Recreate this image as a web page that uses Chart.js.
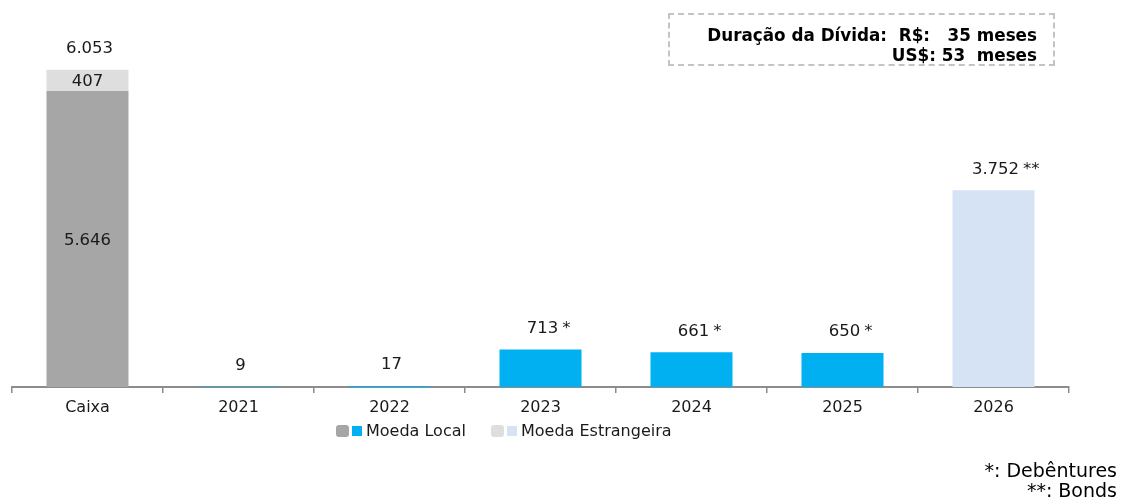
<!DOCTYPE html>
<html>
<head>
<meta charset="utf-8">
<script src="https://cdn.jsdelivr.net/npm/chart.js@4.4.0/dist/chart.umd.min.js"></script>
<style>
  html, body { margin: 0; padding: 0; background: #fff; }
  #wrap { position: relative; width: 1122px; height: 499px; font-family: "DejaVu Sans", Verdana, sans-serif; overflow: hidden; }
  canvas { position: absolute; left: 0; top: 0; }
  #box { position: absolute; left: 668px; top: 13px; width: 383px; height: 49px; border: 2px dashed #c4c4c4;
         font-weight: bold; font-size: 16.8px; line-height: 20px; text-align: right; color: #000;
         box-sizing: content-box; }
  #box div { padding-right: 16px; white-space: pre; }
  #notes { position: absolute; right: 5px; top: 460px; font-size: 19px; line-height: 20px; text-align: right; color: #000; white-space: pre; }
</style>
</head>
<body>
<div id="wrap">
  <canvas id="c" width="1122" height="499"></canvas>
  <div id="box"><div style="margin-top:10px">Duração da Dívida:  R$:   35 meses</div><div>US$: 53  meses</div></div>
  <div id="notes"><div>*: Debêntures</div><div>**: Bonds</div></div>
</div>
<script>
const categories = ['Caixa', '2021', '2022', '2023', '2024', '2025', '2026'];
const moedaLocal = [5646, 9, 17, 713, 661, 650, 0];
const moedaEstrangeira = [407, 0, 0, 0, 0, 0, 3752];
const labelSuffix = ['', '', '', '*', '*', '*', '**'];
const legendNames = ['Moeda Local', 'Moeda Estrangeira'];

const cGray = '#a6a6a6', cLightGray = '#dedede', cBlue = '#00b0f0', cLightBlue = '#d6e3f4';
const FONT = '"DejaVu Sans", Verdana, sans-serif';

function fmt(v) { return String(v).replace(/\B(?=(\d{3})+(?!\d))/g, '.'); }

const labelPlugin = {
  id: 'labels',
  afterDatasetsDraw(chart) {
    const ctx = chart.ctx;
    const m0 = chart.getDatasetMeta(0), m1 = chart.getDatasetMeta(1);
    ctx.save();
    ctx.font = '16.5px ' + FONT;
    ctx.fillStyle = '#1a1a1a';
    ctx.textBaseline = 'middle';
    categories.forEach((c, i) => {
      const total = moedaLocal[i] + moedaEstrangeira[i];
      const b0 = m0.data[i], b1 = m1.data[i];
      const topY = Math.min(b0.y, b1.y);
      const x = b0.x + 2;
      ctx.textAlign = 'center';
      ctx.fillText(fmt(total), x, topY - 21);
      if (labelSuffix[i]) {
        const w = ctx.measureText(fmt(total)).width;
        ctx.textAlign = 'left';
        ctx.fillText(labelSuffix[i], x + w / 2 + 4, topY - 21);
      }
      if (moedaLocal[i] > 0 && moedaEstrangeira[i] > 0) {
        ctx.textAlign = 'center';
        ctx.fillText(fmt(moedaLocal[i]), b0.x, (b0.y + b0.base) / 2 + 2);
        ctx.fillText(fmt(moedaEstrangeira[i]), b1.x, (b1.y + b1.base) / 2 + 1);
      }
    });
    ctx.font = '16px ' + FONT;
    const ly = 431;
    function sq(x, w, h, col, r) {
      ctx.fillStyle = col;
      ctx.beginPath();
      if (ctx.roundRect) ctx.roundRect(x, ly - h / 2, w, h, r); else ctx.rect(x, ly - h / 2, w, h);
      ctx.fill();
    }
    sq(336, 13, 12, cGray, 3);
    sq(352, 10, 10, cBlue, 0);
    sq(491, 13, 12, cLightGray, 3);
    sq(507, 10, 10, cLightBlue, 0);
    ctx.fillStyle = '#1a1a1a';
    ctx.textAlign = 'left';
    ctx.fillText(legendNames[0], 366, ly + 1);
    ctx.fillText(legendNames[1], 521, ly + 1);
    ctx.restore();
  }
};

new Chart(document.getElementById('c'), {
  type: 'bar',
  data: {
    labels: categories,
    datasets: [
      { label: legendNames[0], data: moedaLocal,
        backgroundColor: categories.map((c, i) => i === 0 ? cGray : cBlue) },
      { label: legendNames[1], data: moedaEstrangeira,
        backgroundColor: categories.map((c, i) => i === 0 ? cLightGray : cLightBlue) }
    ]
  },
  options: {
    responsive: false,
    animation: false,
    devicePixelRatio: 1,
    layout: { padding: { left: 12, right: 53, top: 20, bottom: 0 } },
    datasets: { bar: { categoryPercentage: 1, barPercentage: 0.543 } },
    plugins: { legend: { display: false }, tooltip: { enabled: false } },
    scales: {
      x: {
        stacked: true,
        grid: { display: true, drawOnChartArea: false, drawTicks: true, tickLength: 6, color: '#8c8c8c', offset: true, lineWidth: 1.5 },
        border: { display: true, color: '#8c8c8c', width: 2 },
        ticks: { color: '#1a1a1a', font: { family: FONT, size: 16 }, padding: 5, maxRotation: 0 },
        afterFit(scale) { scale.height = 112; }
      },
      y: { stacked: true, display: false, min: 0, max: 7000 }
    }
  },
  plugins: [labelPlugin]
});
</script>
</body>
</html>
